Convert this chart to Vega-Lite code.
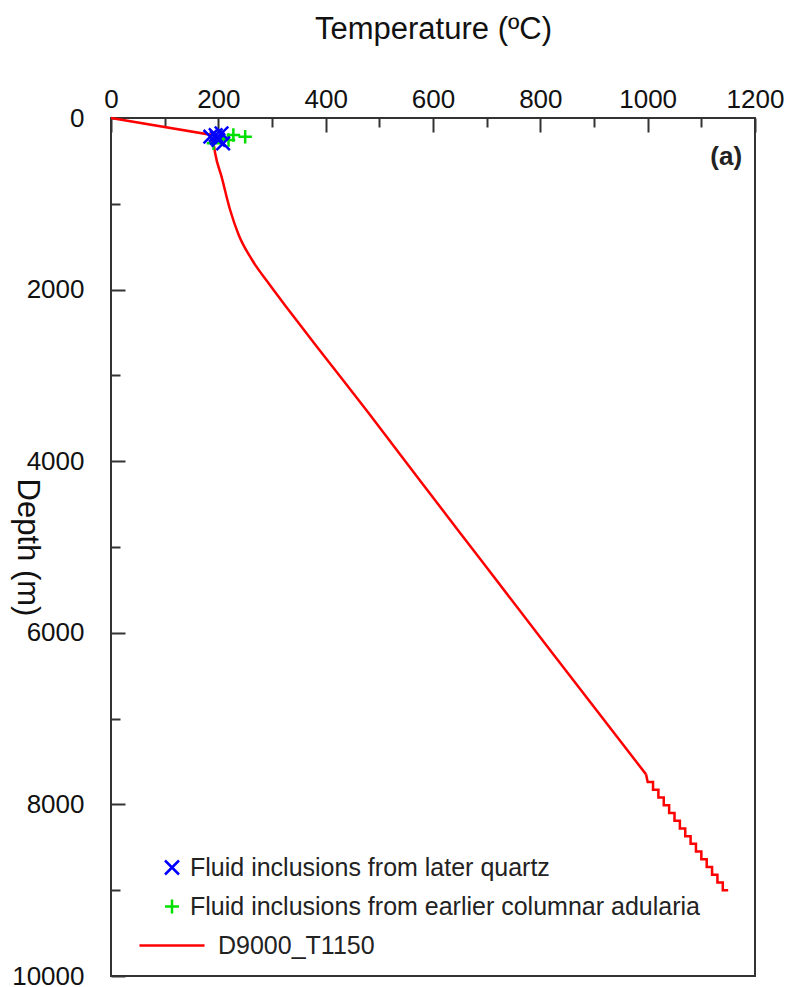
{
  "$schema": "https://vega.github.io/schema/vega-lite/v6.json",
  "width": 644,
  "height": 858,
  "autosize": {"type": "none"},
  "padding": {"left": 111, "top": 118, "right": 34, "bottom": 11},
  "background": "white",
  "config": {
    "view": {"stroke": "#333333", "strokeWidth": 2},
    "axis": {
      "domain": false,
      "grid": false,
      "format": "d",
      "labelFont": "Liberation Sans",
      "labelFontSize": 26,
      "labelColor": "#111111",
      "titleFont": "Liberation Sans",
      "titleFontSize": 31,
      "titleFontWeight": "normal",
      "titleColor": "#111111",
      "tickColor": "#333333",
      "tickWidth": 2,
      "labelFlush": false,
      "labelOverlap": false
    },
    "legend": {
      "labelFont": "Liberation Sans",
      "labelFontSize": 25,
      "labelColor": "#222222",
      "labelLimit": 0,
      "rowPadding": 13,
      "labelOffset": 5.5,
      "padding": 0,
      "symbolSize": 196,
      "symbolStrokeWidth": 2.5
    }
  },
  "datasets": {
    "top": [
      {"i": 0, "T": 0, "depth": 0},
      {"i": 1, "T": 185, "depth": 195},
      {"i": 2, "T": 192, "depth": 330}
    ],
    "mid": [
      {"i": 0, "T": 192, "depth": 330},
      {"i": 1, "T": 194, "depth": 408},
      {"i": 2, "T": 206, "depth": 684},
      {"i": 3, "T": 222, "depth": 1072},
      {"i": 4, "T": 238, "depth": 1364},
      {"i": 5, "T": 263, "depth": 1655},
      {"i": 6, "T": 294, "depth": 1930},
      {"i": 7, "T": 331, "depth": 2238},
      {"i": 8, "T": 384, "depth": 2669},
      {"i": 9, "T": 480, "depth": 3438},
      {"i": 10, "T": 575, "depth": 4219},
      {"i": 11, "T": 675, "depth": 5035},
      {"i": 12, "T": 818, "depth": 6200},
      {"i": 13, "T": 997, "depth": 7650}
    ],
    "deep": [
      {"i": 0, "T": 997, "depth": 7650},
      {"i": 1, "T": 1000, "depth": 7740},
      {"i": 2, "T": 1010, "depth": 7740},
      {"i": 3, "T": 1010, "depth": 7830},
      {"i": 4, "T": 1020, "depth": 7830},
      {"i": 5, "T": 1020, "depth": 7920},
      {"i": 6, "T": 1030, "depth": 7920},
      {"i": 7, "T": 1030, "depth": 8010},
      {"i": 8, "T": 1040, "depth": 8010},
      {"i": 9, "T": 1040, "depth": 8100},
      {"i": 10, "T": 1050, "depth": 8100},
      {"i": 11, "T": 1050, "depth": 8190},
      {"i": 12, "T": 1060, "depth": 8190},
      {"i": 13, "T": 1060, "depth": 8280},
      {"i": 14, "T": 1070, "depth": 8280},
      {"i": 15, "T": 1070, "depth": 8370},
      {"i": 16, "T": 1080, "depth": 8370},
      {"i": 17, "T": 1080, "depth": 8460},
      {"i": 18, "T": 1090, "depth": 8460},
      {"i": 19, "T": 1090, "depth": 8550},
      {"i": 20, "T": 1100, "depth": 8550},
      {"i": 21, "T": 1100, "depth": 8640},
      {"i": 22, "T": 1110, "depth": 8640},
      {"i": 23, "T": 1110, "depth": 8730},
      {"i": 24, "T": 1120, "depth": 8730},
      {"i": 25, "T": 1120, "depth": 8820},
      {"i": 26, "T": 1130, "depth": 8820},
      {"i": 27, "T": 1130, "depth": 8910},
      {"i": 28, "T": 1140, "depth": 8910},
      {"i": 29, "T": 1140, "depth": 9000},
      {"i": 30, "T": 1150, "depth": 9000}
    ],
    "fi": [
      {"series": "Fluid inclusions from earlier columnar adularia", "T": 250, "depth": 218},
      {"series": "Fluid inclusions from earlier columnar adularia", "T": 228, "depth": 198},
      {"series": "Fluid inclusions from earlier columnar adularia", "T": 219, "depth": 256},
      {"series": "Fluid inclusions from earlier columnar adularia", "T": 191, "depth": 295},
      {"series": "Fluid inclusions from earlier columnar adularia", "T": 205, "depth": 230},
      {"series": "Fluid inclusions from later quartz", "T": 185, "depth": 218},
      {"series": "Fluid inclusions from later quartz", "T": 206, "depth": 178},
      {"series": "Fluid inclusions from later quartz", "T": 209, "depth": 295},
      {"series": "Fluid inclusions from later quartz", "T": 200, "depth": 256},
      {"series": "Fluid inclusions from later quartz", "T": 195, "depth": 200},
      {"series": "Fluid inclusions from later quartz", "T": 197, "depth": 232}
    ],
    "tag": [
      {"T": 1176, "depth": 455, "label": "(a)"}
    ]
  },
  "layer": [
    {
      "data": {"name": "top"},
      "mark": {"type": "line", "color": "#ff0000", "strokeWidth": 2.5},
      "encoding": {
        "x": {
          "field": "T", "type": "quantitative",
          "scale": {"domain": [0, 1200], "nice": false, "zero": false},
          "axis": {
            "orient": "top",
            "values": [0, 200, 400, 600, 800, 1000, 1200],
            "tickSize": -14,
            "labelPadding": 25,
            "labelBaseline": "alphabetic",
            "title": "Temperature (ºC)",
            "titleX": 322,
            "titleY": -80,
            "titleAlign": "center",
            "titleBaseline": "alphabetic"
          }
        },
        "y": {
          "field": "depth", "type": "quantitative",
          "scale": {"domain": [0, 10000], "reverse": true, "nice": false, "zero": false},
          "axis": {
            "orient": "left",
            "values": [0, 2000, 4000, 6000, 8000, 10000],
            "tickSize": -14,
            "labelPadding": 41,
            "title": "Depth (m)",
            "titleAngle": 90,
            "titleX": -94,
            "titleY": 429,
            "titleAlign": "center",
            "titleBaseline": "alphabetic"
          }
        },
        "order": {"field": "i", "type": "quantitative"}
      }
    },
    {
      "data": {"name": "mid"},
      "mark": {"type": "line", "color": "#ff0000", "strokeWidth": 2.5, "interpolate": "monotone"},
      "encoding": {
        "x": {
          "field": "T", "type": "quantitative",
          "scale": {"domain": [0, 1200], "nice": false, "zero": false},
          "axis": {"orient": "top", "values": [100, 300, 500, 700, 900, 1100], "tickSize": -9, "labels": false, "title": null}
        },
        "y": {
          "field": "depth", "type": "quantitative",
          "scale": {"domain": [0, 10000], "reverse": true, "nice": false, "zero": false},
          "axis": {"orient": "left", "values": [1000, 3000, 5000, 7000, 9000], "tickSize": -9, "labels": false, "title": null}
        },
        "order": {"field": "i", "type": "quantitative"}
      }
    },
    {
      "data": {"name": "deep"},
      "mark": {"type": "line", "color": "#ff0000", "strokeWidth": 2.5},
      "encoding": {
        "x": {"field": "T", "type": "quantitative", "scale": {"domain": [0, 1200], "nice": false, "zero": false}, "axis": null},
        "y": {"field": "depth", "type": "quantitative", "scale": {"domain": [0, 10000], "reverse": true, "nice": false, "zero": false}, "axis": null},
        "order": {"field": "i", "type": "quantitative"}
      }
    },
    {
      "data": {"name": "fi"},
      "mark": {"type": "point", "filled": false, "strokeWidth": 2.5, "size": 180, "opacity": 1},
      "encoding": {
        "x": {"field": "T", "type": "quantitative", "scale": {"domain": [0, 1200], "nice": false, "zero": false}, "axis": null},
        "y": {"field": "depth", "type": "quantitative", "scale": {"domain": [0, 10000], "reverse": true, "nice": false, "zero": false}, "axis": null},
        "color": {
          "field": "series", "type": "nominal",
          "scale": {
            "domain": ["Fluid inclusions from later quartz", "Fluid inclusions from earlier columnar adularia", "D9000_T1150"],
            "range": ["#0000ff", "#00e000", "#ff0000"]
          },
          "legend": {
            "orient": "none", "legendX": 48.5, "legendY": 737, "title": null,
            "encoding": {"labels": {"dx": {"condition": {"test": "datum.value == 'D9000_T1150'", "value": 28}, "value": 0}}}
          }
        },
        "shape": {
          "field": "series", "type": "nominal",
          "scale": {
            "domain": ["Fluid inclusions from later quartz", "Fluid inclusions from earlier columnar adularia", "D9000_T1150"],
            "range": ["M-1,-1L1,1M-1,1L1,-1", "M-1,0L1,0M0,-1L0,1", "M-4.65,0L4.65,0"]
          },
          "legend": {
            "orient": "none", "legendX": 48.5, "legendY": 737, "title": null,
            "encoding": {"labels": {"dx": {"condition": {"test": "datum.value == 'D9000_T1150'", "value": 28}, "value": 0}}}
          }
        }
      }
    },
    {
      "data": {"name": "tag"},
      "mark": {"type": "text", "align": "right", "baseline": "middle", "font": "Liberation Sans", "fontSize": 26, "fontWeight": "bold", "color": "#222222"},
      "encoding": {
        "x": {"field": "T", "type": "quantitative", "scale": {"domain": [0, 1200], "nice": false, "zero": false}, "axis": null},
        "y": {"field": "depth", "type": "quantitative", "scale": {"domain": [0, 10000], "reverse": true, "nice": false, "zero": false}, "axis": null},
        "text": {"field": "label"}
      }
    }
  ],
  "resolve": {"axis": {"x": "independent", "y": "independent"}}
}
